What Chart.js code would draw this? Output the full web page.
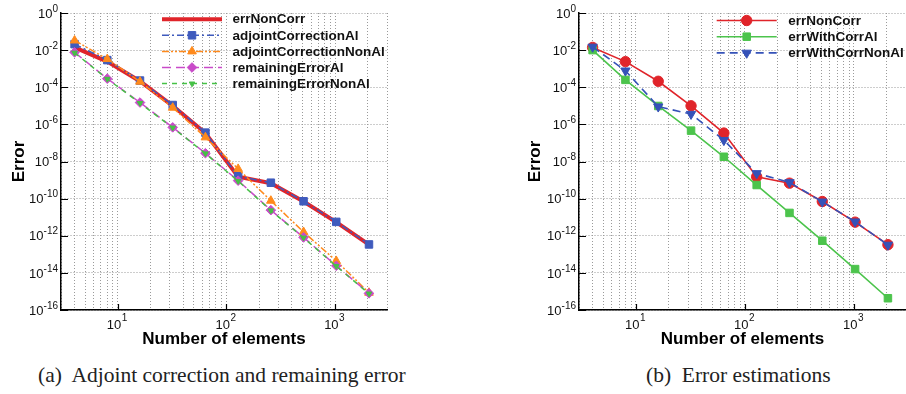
<!DOCTYPE html>
<html>
<head>
<meta charset="utf-8">
<script src="https://cdn.jsdelivr.net/npm/chart.js@4/dist/chart.umd.min.js"></script>
<style>
  html, body { margin:0; padding:0; background:#fff; width:906px; height:394px; overflow:hidden; }
  .box { position:absolute; top:0; width:453px; height:360px; }
  .cap { position:absolute; font-family:'Liberation Serif','Times New Roman',serif; font-size:21.5px; line-height:25px; color:#222; white-space:pre; top:363px; }
</style>
</head>
<body>
<div class="box" style="left:0"><canvas id="c1" width="453" height="360"></canvas></div>
<div class="box" style="left:453px"><canvas id="c2" width="453" height="360"></canvas></div>
<div class="cap" style="left:38px">(a)  Adjoint correction and remaining error</div>
<div class="cap" style="left:646px">(b)  Error estimations</div>
<script>
// ---------------- data ----------------
const nElements = [4, 8, 16, 32, 64, 128, 256, 512, 1024, 2048];
const errNonCorr = [1.4e-2, 2.4e-3, 2.1e-4, 1.0e-5, 3.4e-7, 1.5e-9, 6.8e-10, 7.0e-11, 5.4e-12, 3.3e-13];
const adjointCorrectionAl = [2.1e-2, 2.9e-3, 2.3e-4, 1.1e-5, 3.6e-7, 1.6e-9, 7.2e-10, 7.2e-11, 5.6e-12, 3.4e-13];
const adjointCorrectionNonAl = [3.3e-2, 3.3e-3, 2.0e-4, 7.9e-6, 2.0e-7, 4.0e-9, 7.7e-11, 1.6e-12, 4.4e-14, 8.5e-16];
const remainingErrorAl = [7.6e-3, 2.9e-4, 1.5e-5, 6.9e-7, 2.8e-8, 9.3e-10, 2.4e-11, 8.2e-13, 2.4e-14, 7.9e-16];
const remainingErrorNonAl = [7.2e-3, 2.8e-4, 1.4e-5, 6.6e-7, 2.7e-8, 8.8e-10, 2.3e-11, 7.8e-13, 2.3e-14, 7.6e-16];
const errWithCorrAl = [1.0e-2, 2.5e-4, 9.8e-6, 4.6e-7, 1.8e-8, 5.4e-10, 1.7e-11, 5.4e-13, 1.6e-14, 4.3e-16];
const errWithCorrNonAl = [1.5e-2, 7.8e-4, 9.0e-6, 3.6e-6, 1.4e-7, 2.3e-9, 7.5e-10, 6.8e-11, 5.7e-12, 3.2e-13];

// tick labels (mantissa 10, exponent shown as superscript)
const xTickValues = [10, 100, 1000];
const xTickExponents = ['1', '2', '3'];
const yTickValues = [1e0, 1e-2, 1e-4, 1e-6, 1e-8, 1e-10, 1e-12, 1e-14, 1e-16];
const yTickExponents = ['0', '-2', '-4', '-6', '-8', '-10', '-12', '-14', '-16'];
// grid line positions
const xGridValues = [3,4,5,6,7,8,9,10,20,30,40,50,60,70,80,90,100,200,300,400,500,600,700,800,900,1000,2000,3000];
const yGridValues = [1e-16, 1e-14, 1e-12, 1e-10, 1e-8, 1e-6, 1e-4, 1e-2, 1e0];

// ---------------- styles ----------------
const SANS = "'Liberation Sans', Arial, Helvetica, sans-serif";
const RED = '#e0242a', BLUE = '#3f5bbd', ORANGE = '#ff8a1c', MAGENTA = '#c94bc9', GREEN = '#46c146';
const GREEN2 = '#4cc44c', BLUE2 = '#3552b8';

function pts(arr) { return nElements.map((x, i) => ({ x: x, y: arr[i] })); }

function ds(label, data, color, width, dash, style, radius, rot, order) {
  return {
    label: label, data: pts(data), borderColor: color, backgroundColor: color,
    borderWidth: width, borderDash: dash, pointStyle: style === 'none' ? 'circle' : style,
    pointRadius: style === 'none' ? 0 : radius, pointRotation: rot || 0,
    pointBorderWidth: 1, pointBackgroundColor: color, pointBorderColor: color,
    tension: 0, order: order, showLine: true, fill: false, _mk: style
  };
}

function drawMarker(ctx, style, r, rot, x, y, color) {
  if (style === 'none') return;
  ctx.save();
  ctx.fillStyle = color; ctx.strokeStyle = color; ctx.lineWidth = 1; ctx.setLineDash([]);
  ctx.beginPath();
  if (style === 'circle') { ctx.arc(x, y, r, 0, Math.PI * 2); }
  else if (style === 'rect') { const s = r * Math.SQRT1_2; ctx.rect(x - s, y - s, 2 * s, 2 * s); }
  else if (style === 'rectRot') { ctx.moveTo(x, y - r); ctx.lineTo(x + r, y); ctx.lineTo(x, y + r); ctx.lineTo(x - r, y); ctx.closePath(); }
  else if (style === 'triangle') {
    let a = (rot || 0) * Math.PI / 180;
    ctx.moveTo(x + Math.sin(a) * r, y - Math.cos(a) * r);
    a += 2 * Math.PI / 3; ctx.lineTo(x + Math.sin(a) * r, y - Math.cos(a) * r);
    a += 2 * Math.PI / 3; ctx.lineTo(x + Math.sin(a) * r, y - Math.cos(a) * r);
    ctx.closePath();
  }
  ctx.fill(); ctx.stroke();
  ctx.restore();
}

const decor = {
  id: 'decor',
  afterDraw(chart, args, o) {
    const ctx = chart.ctx, xs = chart.scales.x, ys = chart.scales.y;
    ctx.save();
    // inward major tick marks
    ctx.strokeStyle = '#000'; ctx.lineWidth = 1.2; ctx.setLineDash([]);
    ctx.beginPath();
    xTickValues.forEach(v => { const p = Math.round(xs.getPixelForValue(v)) + 0.5; ctx.moveTo(p, ys.bottom); ctx.lineTo(p, ys.bottom - 6); });
    yTickValues.forEach(v => { const p = Math.round(ys.getPixelForValue(v)) + 0.5; ctx.moveTo(xs.left, p); ctx.lineTo(xs.left + 7, p); });
    ctx.stroke();
    // tick labels
    ctx.fillStyle = '#111';
    ctx.textBaseline = 'alphabetic'; ctx.textAlign = 'left';
    const big = '13px ' + SANS, small = '10px ' + SANS;
    yTickValues.forEach((v, i) => {
      const p = ys.getPixelForValue(v);
      ctx.font = big; const w1 = ctx.measureText('10').width;
      ctx.font = small; const w2 = ctx.measureText(yTickExponents[i]).width;
      const right = xs.left - 3;
      ctx.font = big; ctx.fillText('10', right - w1 - w2, p + 4.7);
      ctx.font = small; ctx.fillText(yTickExponents[i], right - w2, p - 1.3);
    });
    xTickValues.forEach((v, i) => {
      const p = xs.getPixelForValue(v);
      ctx.font = big; const w1 = ctx.measureText('10').width;
      ctx.font = small; const w2 = ctx.measureText(xTickExponents[i]).width;
      const left = p - 1 - (w1 + w2) / 2;
      ctx.font = big; ctx.fillText('10', left, 328.5);
      ctx.font = small; ctx.fillText(xTickExponents[i], left + w1 + 0.5, 321);
    });
    // legend
    const L = o.legend;
    ctx.font = 'bold 13.5px ' + SANS;
    L.items.forEach((idx, k) => {
      const d = chart.data.datasets[idx];
      const y = L.y0 + k * L.dy;
      ctx.save();
      ctx.strokeStyle = d.borderColor; ctx.lineWidth = d.borderWidth; ctx.setLineDash(d.borderDash || []);
      ctx.beginPath(); ctx.moveTo(L.x1, y); ctx.lineTo(L.x2, y); ctx.stroke();
      ctx.restore();
      drawMarker(ctx, d._mk, d.pointRadius, d.pointRotation, (L.x1 + L.x2) / 2, y, d.borderColor);
      ctx.fillStyle = '#111'; ctx.textBaseline = 'middle';
      ctx.fillText(d.label, L.tx, y + 0.5);
    });
    ctx.restore();
  }
};

function makeChart(id, datasets, yTitlePad, yWidth, padRight, legend) {
  return new Chart(document.getElementById(id), {
    type: 'line',
    data: { datasets: datasets },
    plugins: [decor],
    options: {
      responsive: false, animation: false, devicePixelRatio: 1,
      layout: { autoPadding: false, padding: { left: 0, right: padRight, top: 13, bottom: 0 } },
      plugins: { legend: { display: false }, tooltip: { enabled: false }, decor: { legend: legend } },
      scales: {
        x: {
          type: 'logarithmic', min: 3, max: 3000,
          afterBuildTicks: s => { s.ticks = xGridValues.map(v => ({ value: v })); },
          afterFit: s => { s.height = 50; },
          ticks: { display: false },
          grid: { color: '#9a9a9a', lineWidth: 1, drawTicks: false },
          border: { display: true, color: '#000', width: 1.5, dash: [1, 2] },
          title: { display: true, text: 'Number of elements', color: '#000', font: { family: SANS, size: 17, weight: 'bold' }, padding: { top: 0, bottom: 10 } }
        },
        y: {
          type: 'logarithmic', min: 1e-16, max: 1e0,
          afterBuildTicks: s => { s.ticks = yGridValues.map(v => ({ value: v })); },
          afterFit: s => { s.width = yWidth; },
          ticks: { display: false },
          grid: { color: '#9a9a9a', lineWidth: 1, drawTicks: false },
          border: { display: true, color: '#000', width: 1.5, dash: [1, 2] },
          title: { display: true, text: 'Error', color: '#000', font: { family: SANS, size: 17, weight: 'bold' }, padding: { top: yTitlePad, bottom: 0 } }
        }
      }
    }
  });
}

// left chart
makeChart('c1', [
  ds('errNonCorr', errNonCorr, RED, 4, [], 'none', 0, 0, 5),
  ds('adjointCorrectionAl', adjointCorrectionAl, BLUE, 1.5, [7, 3, 2, 3], 'rect', 5.3, 0, 4),
  ds('adjointCorrectionNonAl', adjointCorrectionNonAl, ORANGE, 1.5, [7, 2, 2, 2, 2, 2], 'triangle', 5, 0, 3),
  ds('remainingErrorAl', remainingErrorAl, MAGENTA, 1.5, [9, 5], 'rectRot', 4.8, 0, 2),
  ds('remainingErrorNonAl', remainingErrorNonAl, GREEN, 1.5, [5, 5], 'triangle', 3.2, 180, 1)
], 9.5, 61, 66, { items: [0, 1, 2, 3, 4], x1: 162, x2: 222, tx: 232.5, y0: 19.2, dy: 16.1 });

// right chart
makeChart('c2', [
  ds('errNonCorr', errNonCorr, RED, 1.6, [], 'circle', 5.2, 0, 3),
  ds('errWithCorrAl', errWithCorrAl, GREEN2, 1.6, [], 'rect', 5.3, 0, 2),
  ds('errWithCorrNonAl', errWithCorrNonAl, BLUE2, 1.6, [8, 5], 'triangle', 5.4, 180, 1)
], 71.8, 126, 0, { items: [0, 1, 2], x1: 263.7, x2: 323.7, tx: 335.3, y0: 20.5, dy: 16.2 });
</script>
</body>
</html>
